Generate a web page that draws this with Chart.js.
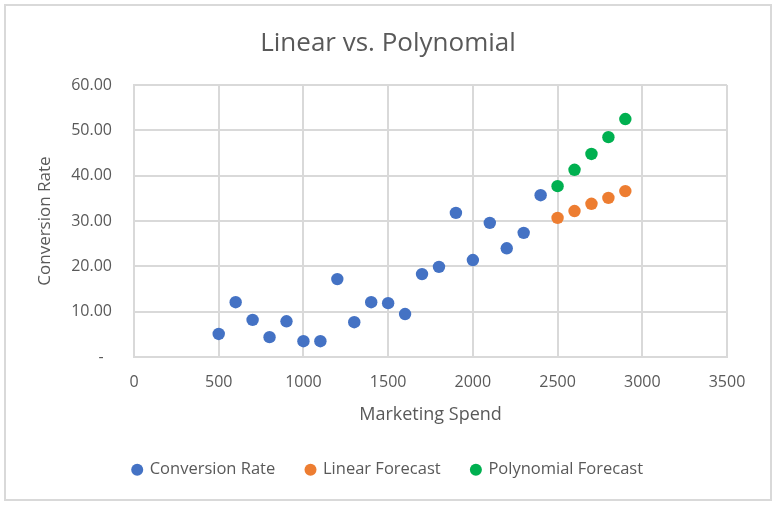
<!DOCTYPE html>
<html>
<head>
<meta charset="utf-8">
<script src="https://cdn.jsdelivr.net/npm/chart.js@4"></script>
<style>
  html, body { margin: 0; padding: 0; background: #fff; }
  #wrap { position: relative; width: 776px; height: 505px; }
</style>
</head>
<body>
<div id="wrap"><canvas id="chart" width="776" height="505"></canvas></div>
<script>
// --------- Data ----------
const spendActual   = [500, 600, 700, 800, 900, 1000, 1100, 1200, 1300, 1400,
                       1500, 1600, 1700, 1800, 1900, 2000, 2100, 2200, 2300, 2400];
const conversion    = [5.1, 12.1, 8.2, 4.4, 7.9, 3.5, 3.5, 17.2, 7.7, 12.1,
                       11.9, 9.5, 18.3, 19.9, 31.8, 21.4, 29.6, 24.0, 27.4, 35.7];
const spendForecast = [2500, 2600, 2700, 2800, 2900];
const linearFc      = [30.7, 32.2, 33.8, 35.1, 36.6];
const polyFc        = [37.7, 41.3, 44.8, 48.5, 52.5];

const seriesNames = ['Conversion Rate', 'Linear Forecast', 'Polynomial Forecast'];
const seriesColors = ['#4472C4', '#ED7D31', '#00B050'];

const TXT = '#595959';
const GRID = '#d9d9d9';
const FONT = "'Open Sans', 'Noto Sans', sans-serif";

function toPoints(xs, ys) {
  return xs.map((x, i) => ({ x: x, y: ys[i] }));
}

function makeSet(i, xs, ys) {
  return {
    label: seriesNames[i],
    data: toPoints(xs, ys),
    backgroundColor: seriesColors[i],
    borderColor: seriesColors[i],
    pointRadius: 6.2,
    pointHoverRadius: 6.2,
    borderWidth: 0
  };
}

// outer frame like the Excel chart area
const frame = {
  id: 'frame',
  beforeDraw(chart) {
    const c = chart.ctx;
    c.save();
    c.fillStyle = '#fff';
    c.fillRect(0, 0, chart.width, chart.height);
    c.strokeStyle = GRID;
    c.lineWidth = 2;
    c.strokeRect(5, 5, 766, 495);
    c.restore();
  }
};

new Chart(document.getElementById('chart'), {
  type: 'scatter',
  data: {
    datasets: [
      makeSet(0, spendActual, conversion),
      makeSet(1, spendForecast, linearFc),
      makeSet(2, spendForecast, polyFc)
    ]
  },
  options: {
    responsive: false,
    animation: false,
    layout: { padding: { left: 49, right: 49, top: 22, bottom: 17 } },
    plugins: {
      title: {
        display: true,
        text: 'Linear vs. Polynomial',
        color: TXT,
        font: { family: FONT, size: 26, weight: 'normal' },
        padding: { top: 6.4, bottom: 25.4 }
      },
      legend: {
        position: 'bottom',
        labels: {
          usePointStyle: true,
          pointStyle: 'circle',
          boxWidth: 8.5,
          boxHeight: 8.5,
          padding: 31,
          color: TXT,
          font: { family: FONT, size: 16.5 }
        }
      },
      tooltip: { enabled: false }
    },
    scales: {
      x: {
        type: 'linear',
        min: 0,
        max: 3500,
        ticks: {
          stepSize: 500,
          color: TXT,
          font: { family: FONT, size: 16 },
          padding: 16,
          callback: v => String(v)
        },
        grid: { color: GRID, lineWidth: 2, drawTicks: false },
        border: { color: GRID, width: 2 },
        title: {
          display: true,
          text: 'Marketing Spend',
          color: TXT,
          font: { family: FONT, size: 18 },
          padding: { top: 0, bottom: 4.6 }
        },
        afterFit: s => { s.height = 73.4; }
      },
      y: {
        min: 0,
        max: 60,
        ticks: {
          stepSize: 10,
          color: TXT,
          font: { family: FONT, size: 16 },
          padding: 22,
          callback: v => v === 0 ? '-  ' : v.toFixed(2)
        },
        grid: { color: GRID, lineWidth: 2, drawTicks: false },
        border: { color: GRID, width: 2 },
        title: {
          display: true,
          text: 'Conversion Rate',
          color: TXT,
          font: { family: FONT, size: 17 },
          padding: { top: -14, bottom: 0 }
        },
        afterFit: s => { s.width = 85; }
      }
    }
  },
  plugins: [frame]
});
</script>
</body>
</html>
